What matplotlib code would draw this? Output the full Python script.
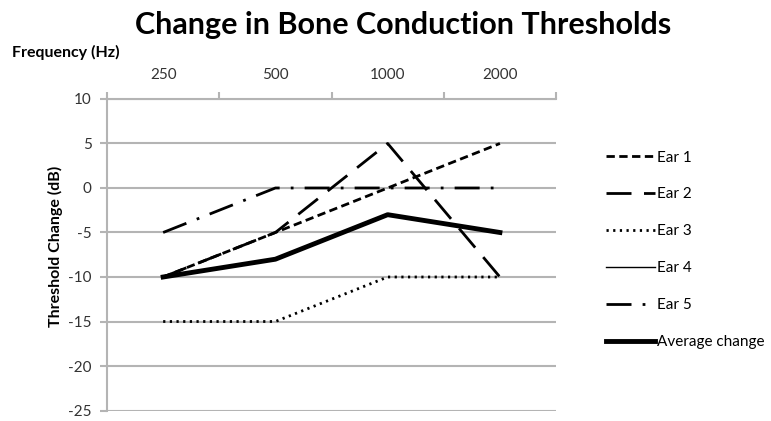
import matplotlib.pyplot as plt
import matplotlib

plt.rcParams['font.family'] = ['Lato', 'DejaVu Sans']
plt.rcParams['axes.unicode_minus'] = False

freqs = ['250', '500', '1000', '2000']
ear1 = [-10, -5, 0, 5]
ear2 = [-10, -5, 5, -10]
ear3 = [-15, -15, -10, -10]
ear4 = [-10, -8, -3, -5]
ear5 = [-5, 0, 0, 0]
average = [-10, -8, -3, -5]

x = range(len(freqs))
grid_col = '#b4b4b4'
text_col = '#333333'

fig = plt.figure(figsize=(7.71, 4.21), dpi=100)
ax = fig.add_axes([0.1388, 0.0249, 0.5824, 0.740])

ax.plot(x, ear4, color='black', lw=1.0, label='Ear 4', zorder=3)
ax.plot(x, ear1, color='black', lw=2.0, dashes=(3, 1.6), label='Ear 1', zorder=4)
ax.plot(x, ear2, color='black', lw=2.0, dashes=(9, 4.5), label='Ear 2', zorder=4)
ax.plot(x, ear3, color='black', lw=2.0, dashes=(0.8, 1.6), label='Ear 3', zorder=4)
ax.plot(x, ear5, color='black', lw=2.0, dashes=(9, 4, 1, 4), label='Ear 5', zorder=4)
ax.plot(x, average, color='black', lw=3.5, label='Average change', zorder=5)

ax.set_xlim(-0.5, 3.5)
ax.set_ylim(-25, 10)
ax.set_yticks(range(-25, 11, 5))
ax.yaxis.grid(True, color=grid_col, lw=1.5)
ax.set_axisbelow(True)

ax.xaxis.tick_top()
ax.set_xticks(list(x))
ax.set_xticklabels(freqs)
ax.set_xticks([-0.5, 0.5, 1.5, 2.5, 3.5], minor=True)
ax.tick_params(axis='x', which='major', length=0, pad=12, labelsize=11, labelcolor=text_col)
ax.tick_params(axis='x', which='minor', length=5, color=grid_col, width=1.5, direction='out')
ax.tick_params(axis='y', length=5, color=grid_col, width=1.5, labelsize=11, pad=6, labelcolor=text_col)

for s in ['right', 'bottom']:
    ax.spines[s].set_visible(False)
for s in ['left', 'top']:
    ax.spines[s].set_color(grid_col)
    ax.spines[s].set_linewidth(1.5)

ax.set_ylabel('Threshold Change (dB)', fontsize=11.5, fontweight='bold')
ax.yaxis.set_label_coords(-0.098, 0.528)
fig.text(0.016, 0.875, 'Frequency (Hz)', fontsize=11.5, fontweight='bold', va='center')
fig.suptitle('Change in Bone Conduction Thresholds', fontsize=22, fontweight='bold', x=0.523, y=0.975)

handles, labels = ax.get_legend_handles_labels()
order = [1, 2, 3, 0, 4, 5]
ax.legend([handles[i] for i in order], [labels[i] for i in order],
          loc='upper left', bbox_to_anchor=(0.768, 0.675), bbox_transform=fig.transFigure,
          frameon=False, fontsize=11, handlelength=3.2, handletextpad=0.15, labelspacing=1.5)

fig.savefig('out.png', dpi=100)
